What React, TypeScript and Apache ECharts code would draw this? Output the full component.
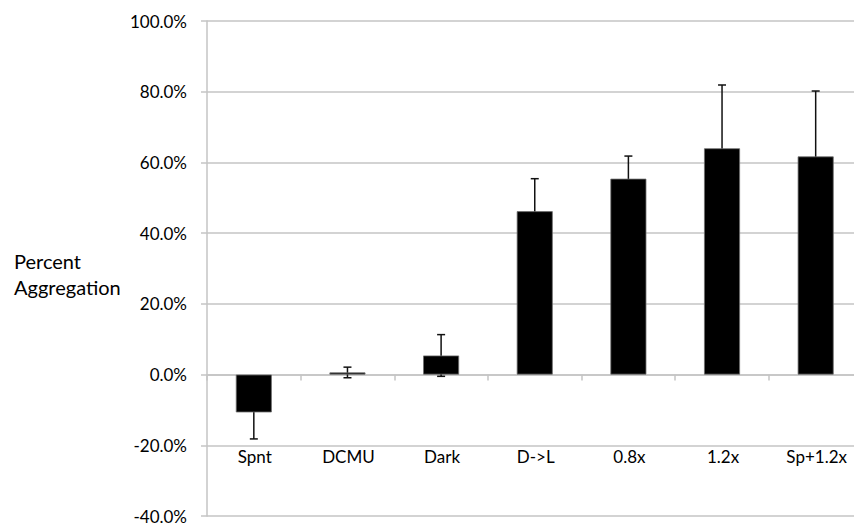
import React, { useEffect, useRef } from "react";
import * as echarts from "echarts";

const categories = ["Spnt", "DCMU", "Dark", "D->L", "0.8x", "1.2x", "Sp+1.2x"];
const values = [-10.7, 0.6, 5.4, 46.2, 55.4, 64.0, 61.7];
const errors = [7.5, 1.5, 5.9, 9.2, 6.4, 17.9, 18.5];
const yTicks = { min: -40, max: 100, interval: 20 };
const axisTitle = ["Percent", "Aggregation"];

export default function App() {
  const ref = useRef<HTMLDivElement>(null);
  useEffect(() => {
    if (!ref.current) return;
    const chart = echarts.init(ref.current, undefined, { renderer: "svg" });
    const font = "Lato";
    const gray = "#c4c4c4";
    chart.setOption({
      animation: false,
      backgroundColor: "#ffffff",
      grid: [
        { left: 207, top: 21, width: 655.5, height: 495, outerBoundsMode: "none", containLabel: false },
        { left: 208, top: 21, width: 655.5, height: 424, outerBoundsMode: "none", containLabel: false },
      ],
      xAxis: [
        {
          type: "category",
          gridIndex: 0,
          data: categories,
          axisLine: { onZero: true, lineStyle: { color: gray, width: 1.5 } },
          axisTick: { show: true, length: 6, lineStyle: { color: gray, width: 1.5 } },
          axisLabel: { show: false },
        },
        {
          type: "category",
          gridIndex: 1,
          data: categories,
          axisLine: { show: false },
          axisTick: { show: false },
          axisLabel: { margin: 3, color: "#000", fontFamily: font, fontSize: 17 },
        },
      ],
      yAxis: [
        {
          type: "value",
          gridIndex: 0,
          min: yTicks.min,
          max: yTicks.max,
          interval: yTicks.interval,
          axisLine: { show: true, lineStyle: { color: gray, width: 1.5 } },
          axisTick: { show: true, length: 6, lineStyle: { color: gray, width: 1.5 } },
          splitLine: { show: true, lineStyle: { color: gray, width: 1.5 } },
          axisLabel: {
            margin: 20,
            color: "#000",
            fontFamily: font,
            fontSize: 17,
            formatter: (v: number) => v.toFixed(1) + "%",
          },
        },
        { type: "value", gridIndex: 1, show: false, min: 0, max: 1 },
      ],
      graphic: [
        {
          type: "text",
          x: 14,
          y: 261,
          style: {
            text: axisTitle[0],
            font: `20px ${font}`,
            fill: "#000",
            verticalAlign: "middle",
          },
        },
        {
          type: "text",
          x: 14,
          y: 287,
          style: {
            text: axisTitle[1],
            font: `20px ${font}`,
            fill: "#000",
            verticalAlign: "middle",
          },
        },
      ],
      series: [
        {
          type: "custom",
          xAxisIndex: 0,
          yAxisIndex: 0,
          z: 1,
          data: values.map((v, i) => [i, v, errors[i]]),
          renderItem: (params: any, api: any) => {
            const i = api.value(0);
            const v = api.value(1);
            const e = api.value(2);
            const top = api.coord([i, v + e]);
            const bot = api.coord([i, v - e]);
            const hw = 4;
            const style = { stroke: "#111", lineWidth: 1.5 };
            return {
              type: "group",
              children: [
                { type: "line", shape: { x1: top[0], y1: top[1], x2: bot[0], y2: bot[1] }, style },
                { type: "line", shape: { x1: top[0] - hw, y1: top[1], x2: top[0] + hw, y2: top[1] }, style },
                { type: "line", shape: { x1: bot[0] - hw, y1: bot[1], x2: bot[0] + hw, y2: bot[1] }, style },
              ],
            };
          },
        },
        {
          type: "bar",
          xAxisIndex: 0,
          yAxisIndex: 0,
          z: 2,
          data: values,
          barWidth: 36,
          itemStyle: { color: "#000", borderColor: "#6f6f6f", borderWidth: 0.8 },
        },
      ],
    });
    return () => chart.dispose();
  }, []);
  return (
    <div
      ref={ref}
      style={{ position: "fixed", left: 0, top: 0, width: 854, height: 525 }}
    />
  );
}
